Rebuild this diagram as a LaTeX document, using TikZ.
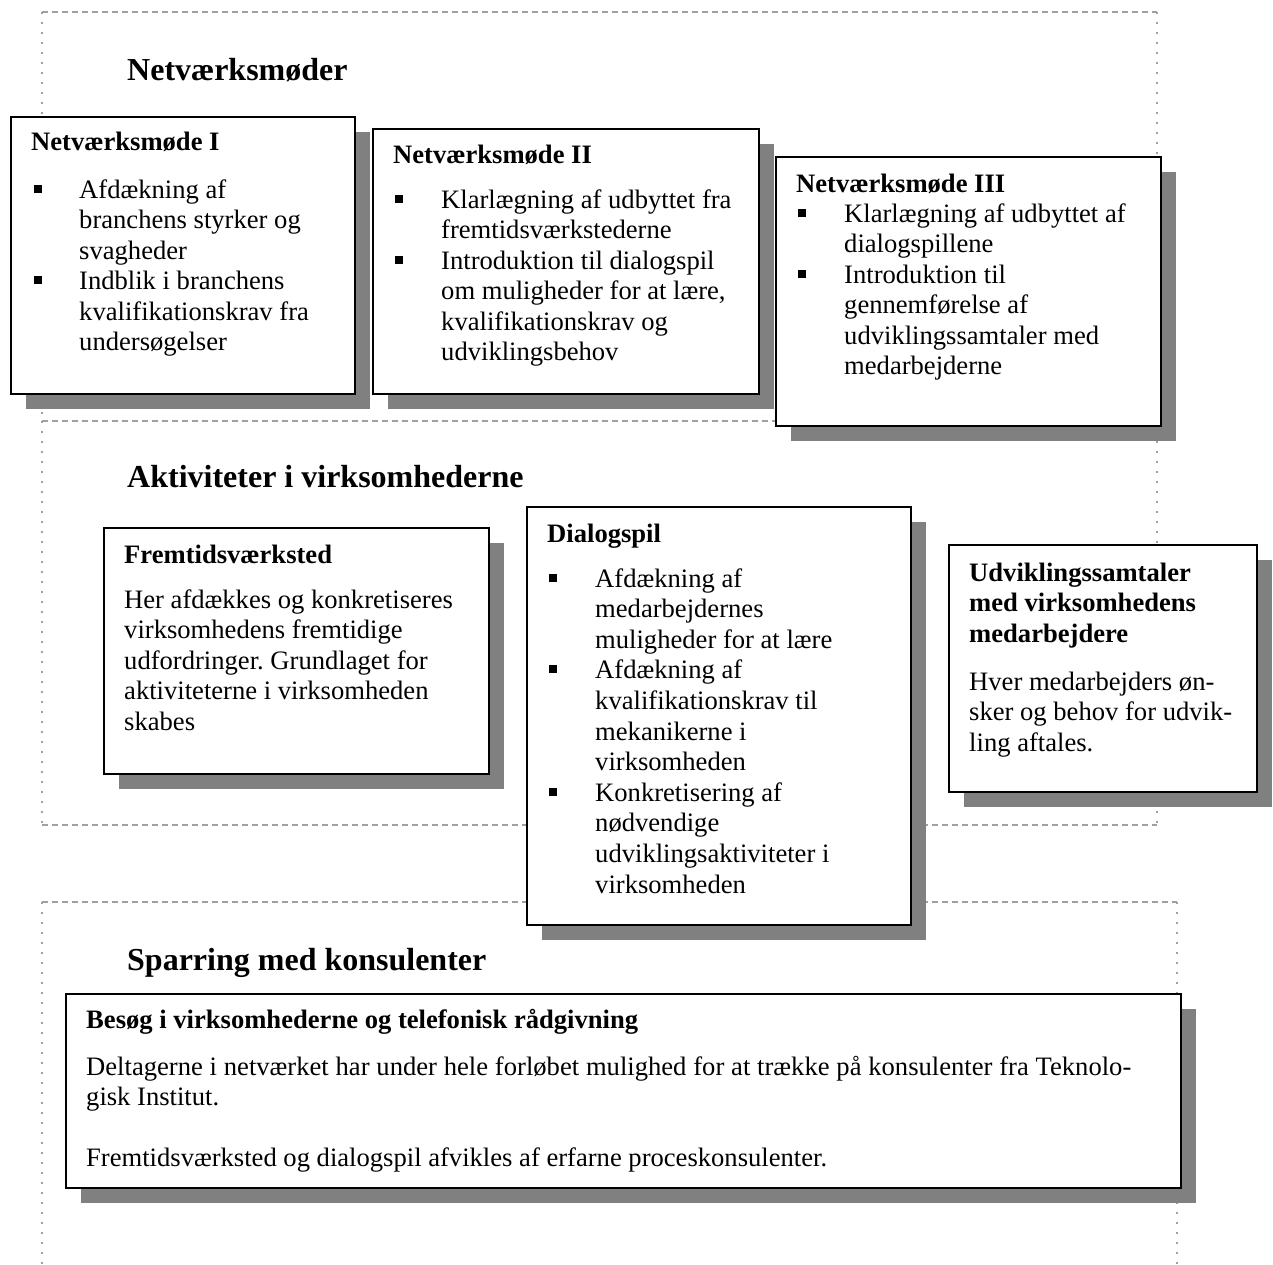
\documentclass[tikz,border=0pt]{standalone}
\usepackage{fontspec}
\setmainfont{Liberation Serif}
\frenchspacing
\definecolor{shadowgray}{HTML}{808080}
\definecolor{framegray}{HTML}{A0A0A0}
\newcommand\Ln[1]{\hbox{#1}}
\newcommand\mkcard[5]{%
  \fill[shadowgray] (#2+16,#3+16) rectangle (#4+16,#5+16);
  \node[card, anchor=north west, minimum width={#4-#2}, minimum height={#5-#3}] (#1) at (#2,#3) {};
}
\tikzset{
  frameH/.style={draw=framegray, line width=1.5pt, dash pattern=on 6pt off 4pt},
  frameV/.style={draw=framegray, line width=1.5pt, dash pattern=on 2pt off 8pt},
  card/.style={draw=black, line width=2pt, fill=white, inner sep=0pt},
  hd/.style={anchor=base west, inner sep=0pt, font=\fontsize{32}{38}\selectfont\bfseries},
  ttl/.style={anchor=base west, inner sep=0pt, font=\fontsize{26.6}{30.5}\selectfont\bfseries},
  txt/.style={anchor=base west, inner sep=0pt, font=\fontsize{26.6}{30.5}\selectfont},
  bul/.style={fill=black, draw=none, minimum size=8pt, inner sep=0pt},
}
\begin{document}
\begin{tikzpicture}[x=1pt, y=-1pt]
\useasboundingbox[fill=white] (0,0) rectangle (1273,1264);
% frames
\draw[frameH] (42,12) -- (1157,12);
\draw[frameV] (42,12) -- (42,421);
\draw[frameV] (1157,12) -- (1157,421);
\draw[frameH] (42,421) -- (1157,421);
\draw[frameV] (42,421) -- (42,825);
\draw[frameV] (1157,421) -- (1157,825);
\draw[frameH] (42,825) -- (1157,825);
\draw[frameH] (42,902) -- (1177,902);
\draw[frameV] (42,902) -- (42,1264);
\draw[frameV] (1177,902) -- (1177,1264);

% headings
\node[hd] (h1) at (127,80) {Netværksmøder};
\node[hd] (h2) at (127,487) {Aktiviteter i virksomhederne};
\node[hd] (h3) at (127,970) {Sparring med konsulenter};

% Netværksmøde I
\mkcard{nm1}{10}{116}{354}{393}
\node[ttl] (nm1t) at (31,150) {Netværksmøde I};
\node[txt] (nm1b) at (79,198) {\vtop{\Ln{Afdækning af}\Ln{branchens styrker og}\Ln{svagheder}\Ln{Indblik i branchens}\Ln{kvalifikationskrav fra}\Ln{undersøgelser}}};
\node[bul] (nm1p1) at (38,188.5) {};
\node[bul] (nm1p2) at (38,280) {};

% Netværksmøde II
\mkcard{nm2}{372}{128}{758}{393}
\node[ttl] (nm2t) at (393,163) {Netværksmøde II};
\node[txt] (nm2b) at (441,208) {\vtop{\Ln{Klarlægning af udbyttet fra}\Ln{fremtidsværkstederne}\Ln{Introduktion til dialogspil}\Ln{om muligheder for at lære,}\Ln{kvalifikationskrav og}\Ln{udviklingsbehov}}};
\node[bul] (nm2p1) at (399,198.5) {};
\node[bul] (nm2p2) at (399,259.5) {};

% Netværksmøde III
\mkcard{nm3}{775}{156}{1160}{425}
\node[ttl] (nm3t) at (796,192) {Netværksmøde III};
\node[txt] (nm3b) at (844,222) {\vtop{\Ln{Klarlægning af udbyttet af}\Ln{dialogspillene}\Ln{Introduktion til}\Ln{gennemførelse af}\Ln{udviklingssamtaler med}\Ln{medarbejderne}}};
\node[bul] (nm3p1) at (801.5,212.5) {};
\node[bul] (nm3p2) at (801.5,273.5) {};

% Fremtidsværksted
\mkcard{fv}{103}{527}{488}{773}
\node[ttl] (fvt) at (124,563) {Fremtidsværksted};
\node[txt] (fvb) at (124,608) {\vtop{\Ln{Her afdækkes og konkretiseres}\Ln{virksomhedens fremtidige}\Ln{udfordringer. Grundlaget for}\Ln{aktiviteterne i virksomheden}\Ln{skabes}}};

% Dialogspil
\mkcard{ds}{526}{506}{910}{924}
\node[ttl] (dst) at (547,542) {Dialogspil};
\node[txt, font=\fontsize{26.6}{30.6}\selectfont] (dsb) at (595,587) {\vtop{\Ln{Afdækning af}\Ln{medarbejdernes}\Ln{muligheder for at lære}\Ln{Afdækning af}\Ln{kvalifikationskrav til}\Ln{mekanikerne i}\Ln{virksomheden}\Ln{Konkretisering af}\Ln{nødvendige}\Ln{udviklingsaktiviteter i}\Ln{virksomheden}}};
\node[bul] (dsp1) at (553,577.5) {};
\node[bul] (dsp2) at (553,669.3) {};
\node[bul] (dsp3) at (553,791.7) {};

% Udviklingssamtaler
\mkcard{us}{948}{544}{1256}{791}
\node[ttl] (ust) at (969,581) {\vtop{\Ln{Udviklingssamtaler}\Ln{med virksomhedens}\Ln{medarbejdere}}};
\node[txt] (usb) at (969,690) {\vtop{\Ln{Hver medarbejders øn-}\Ln{sker og behov for udvik-}\Ln{ling aftales.}}};

% Besøg
\mkcard{bs}{65}{993}{1180}{1187}
\node[ttl] (bst) at (86,1028) {Besøg i virksomhederne og telefonisk rådgivning};
\node[txt] (bsb) at (86,1075) {\vtop{\Ln{\makebox[1045pt][s]{Deltagerne i netværket har under hele forløbet mulighed for at trække på konsulenter fra Teknolo-}}\Ln{gisk Institut.}\Ln{}\Ln{Fremtidsværksted og dialogspil afvikles af erfarne proceskonsulenter.}}};
\end{tikzpicture}
\end{document}
